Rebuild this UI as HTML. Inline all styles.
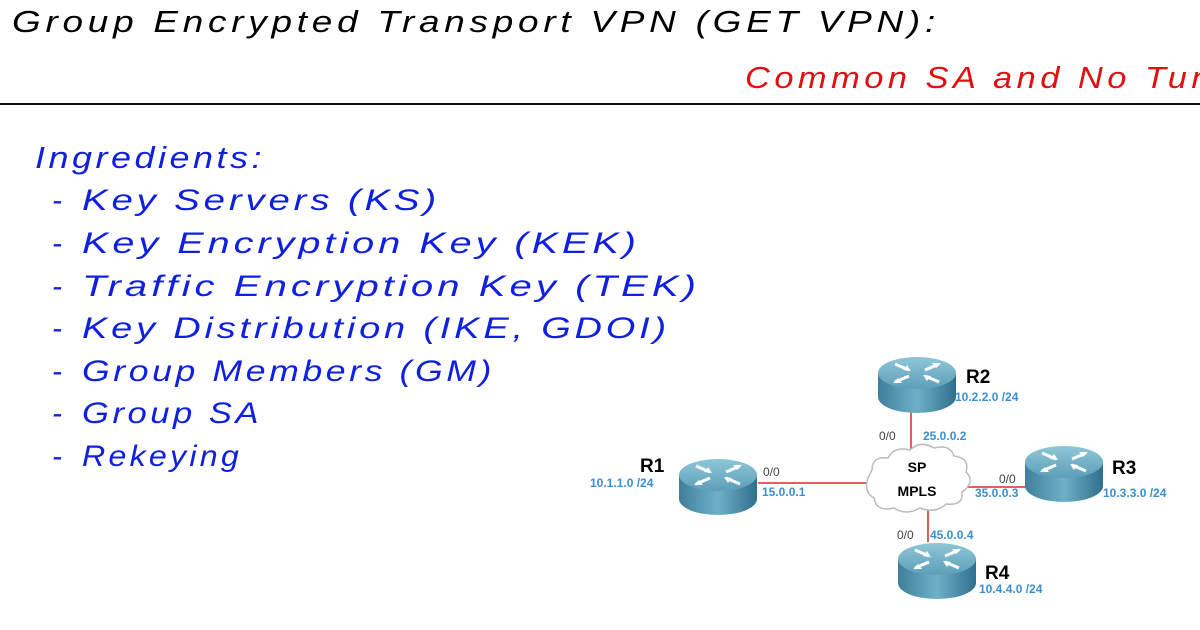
<!DOCTYPE html>
<html><head><meta charset="utf-8"><style>
html,body{margin:0;padding:0;background:#fff;width:1200px;height:630px;overflow:hidden}
svg{display:block}
.h{font-family:"Liberation Sans",sans-serif;font-style:italic}
.b{font-family:"Liberation Sans",sans-serif;font-weight:bold}
</style></head><body>
<svg width="1200" height="630" viewBox="0 0 1200 630" xmlns="http://www.w3.org/2000/svg">
<defs>
<linearGradient id="body" x1="0" x2="1" y1="0" y2="0">
<stop offset="0" stop-color="#3f7f9c"/><stop offset="0.5" stop-color="#6fb0c8"/><stop offset="1" stop-color="#2f6f8c"/>
</linearGradient>
<linearGradient id="top" x1="0" x2="0" y1="0" y2="1">
<stop offset="0" stop-color="#8ec6d8"/><stop offset="1" stop-color="#5d9fb8"/>
</linearGradient>
<g id="rt">
<path d="M-39,0 L-39,24 A39,16 0 0 0 39,24 L39,0 Z" fill="url(#body)"/>
<ellipse cx="0" cy="0" rx="39" ry="16" fill="url(#top)"/>
<g stroke="#fff" stroke-width="3" fill="none">
<path d="M-22,-9 L-8,-3"/>
<path d="M22,-9 L8,-3"/>
<path d="M-22,9 L-8,3"/>
<path d="M22,9 L8,3"/>
</g>
<g fill="#fff">
<polygon points="-6,-2 -14,-3 -10,-8"/>
<polygon points="24,-10 15,-10 19,-5"/>
<polygon points="-24,10 -15,10 -19,5"/>
<polygon points="6,2 14,3 10,8"/>
</g>
</g>
</defs>
<g font-family="Liberation Sans,sans-serif" font-style="italic">
<text x="12" y="32" font-size="31" fill="#000" textLength="928" lengthAdjust="spacingAndGlyphs" letter-spacing="4">Group Encrypted Transport VPN (GET VPN):</text>
<text x="745" y="88" font-size="31" fill="#e01010" textLength="470" lengthAdjust="spacingAndGlyphs" letter-spacing="4">Common SA and No Tun</text>
</g>
<rect x="0" y="103" width="1200" height="2" fill="#111"/>
<g class="h" fill="#1020e0">
<text x="35" y="168" font-size="31" textLength="230" lengthAdjust="spacingAndGlyphs" letter-spacing="3">Ingredients:</text>
<g font-size="30" letter-spacing="3">
<text x="52" y="210">-</text><text x="82" y="210" textLength="358" lengthAdjust="spacingAndGlyphs">Key Servers (KS)</text>
<text x="52" y="253">-</text><text x="82" y="253" textLength="558" lengthAdjust="spacingAndGlyphs">Key Encryption Key (KEK)</text>
<text x="52" y="296">-</text><text x="82" y="296" textLength="618" lengthAdjust="spacingAndGlyphs">Traffic Encryption Key (TEK)</text>
<text x="52" y="338">-</text><text x="82" y="338" textLength="588" lengthAdjust="spacingAndGlyphs">Key Distribution (IKE, GDOI)</text>
<text x="52" y="381">-</text><text x="82" y="381" textLength="413" lengthAdjust="spacingAndGlyphs">Group Members (GM)</text>
<text x="52" y="423">-</text><text x="82" y="423" textLength="180" lengthAdjust="spacingAndGlyphs">Group SA</text>
<text x="52" y="466">-</text><text x="82" y="466" textLength="160" lengthAdjust="spacingAndGlyphs">Rekeying</text>
</g>
</g>
<g stroke="#e06060" stroke-width="2">
<line x1="758" y1="483" x2="868" y2="483"/>
<line x1="911" y1="412" x2="911" y2="458"/>
<line x1="968" y1="487" x2="1026" y2="487"/>
<line x1="928" y1="505" x2="928" y2="542"/>
</g>
<path d="M872,470 q0,-14 16,-12 q6,-12 22,-8 q10,-10 24,-2 q16,-4 20,8 q16,2 12,16 q10,10 -4,20 q2,14 -16,12 q-10,10 -26,4 q-14,8 -26,0 q-18,4 -20,-10 q-14,-8 -2,-28z" fill="#fff" stroke="#bbb" stroke-width="1.5"/>
<use href="#rt" x="718" y="475"/>
<use href="#rt" x="917" y="373"/>
<use href="#rt" x="1064" y="462"/>
<use href="#rt" x="937" y="559"/>
<g class="b" font-size="19" fill="#000">
<text x="640" y="472">R1</text><text x="966" y="383">R2</text><text x="1112" y="474">R3</text><text x="985" y="579">R4</text>
</g>
<g class="b" font-size="14" fill="#000" text-anchor="middle">
<text x="917" y="472">SP</text><text x="917" y="496">MPLS</text>
</g>
<g font-family="Liberation Sans,sans-serif" font-size="12" fill="#444">
<text x="763" y="476">0/0</text><text x="879" y="440">0/0</text><text x="999" y="483">0/0</text><text x="897" y="539">0/0</text>
</g>
<g class="b" font-size="12" fill="#3a8fd0">
<text x="590" y="487">10.1.1.0 /24</text>
<text x="762" y="496">15.0.0.1</text>
<text x="955" y="401">10.2.2.0 /24</text>
<text x="923" y="440">25.0.0.2</text>
<text x="975" y="497">35.0.0.3</text>
<text x="1103" y="497">10.3.3.0 /24</text>
<text x="930" y="539">45.0.0.4</text>
<text x="979" y="593">10.4.4.0 /24</text>
</g>
</svg>
</body></html>
